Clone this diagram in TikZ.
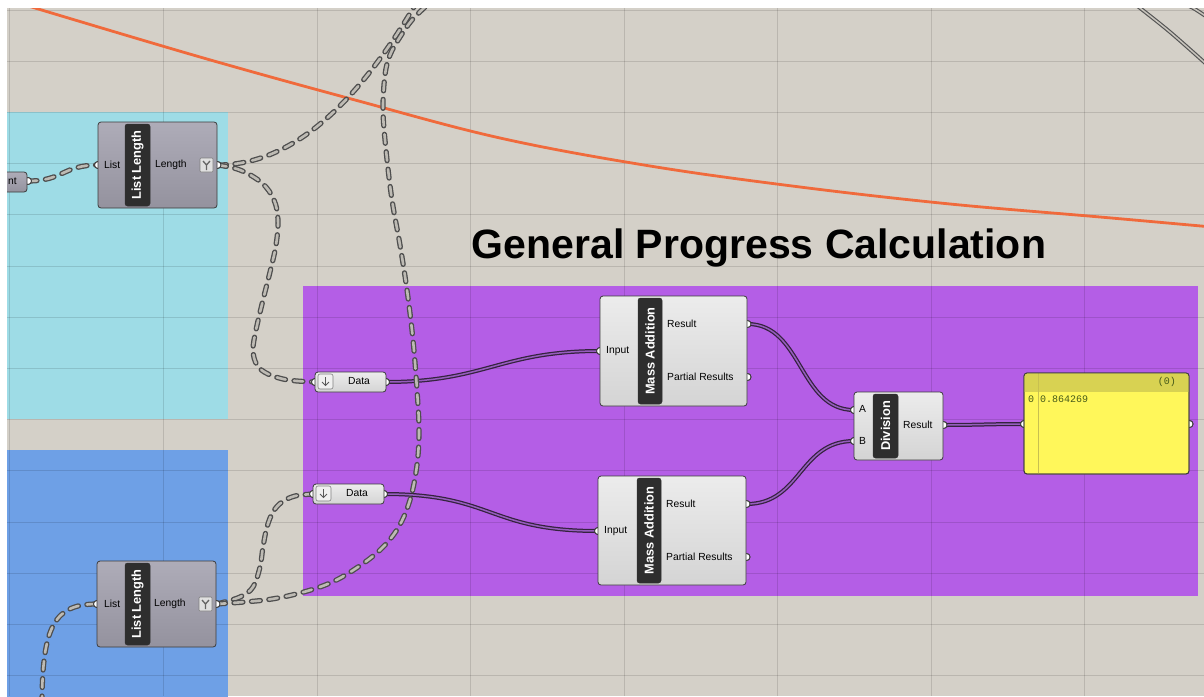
\documentclass[tikz,border=0pt]{standalone}
\usepackage{fontspec}
\setmainfont{Liberation Sans}
\newfontfamily\panelmono{Liberation Mono}
\usetikzlibrary{calc}

\definecolor{canvas}{RGB}{212,208,200}
\definecolor{cyangrp}{RGB}{158,220,230}
\definecolor{bluegrp}{RGB}{110,160,230}
\definecolor{purplegrp}{RGB}{180,94,230}
\definecolor{wireorange}{RGB}{240,106,60}
\definecolor{compedge}{RGB}{60,60,60}
\definecolor{complt}{RGB}{236,236,236}
\definecolor{compdk}{RGB}{212,212,212}
\definecolor{greylt}{RGB}{174,172,184}
\definecolor{greydk}{RGB}{148,146,158}
\definecolor{tagfill}{RGB}{46,46,46}
\definecolor{dashout}{RGB}{78,78,78}
\definecolor{dashin}{RGB}{190,187,180}
\definecolor{solidout}{RGB}{52,34,62}
\definecolor{solidin}{RGB}{150,92,190}
\definecolor{panelbody}{RGB}{255,247,90}
\definecolor{panelhead}{RGB}{216,210,82}
\definecolor{panelline}{RGB}{200,192,80}
\definecolor{paneltext}{RGB}{70,90,25}
\definecolor{circout}{RGB}{85,85,85}
\definecolor{circin}{RGB}{200,196,188}

\tikzset{
  gridln/.style={draw=black, opacity=0.12, line width=1pt},
  comp/.style={draw=compedge, line width=0.8pt, rounded corners=3pt,
    top color=complt, bottom color=compdk, inner sep=0pt, outer sep=0pt},
  compgrey/.style={comp, top color=greylt, bottom color=greydk},
  tagbox/.style={fill=tagfill, draw=black!80, line width=0.5pt, rounded corners=2.5pt,
    rotate=90, inner sep=0pt, text=white,
    font=\fontsize{12.8}{14}\selectfont\bfseries},
  port/.style={circle, draw=compedge, fill=white, line width=0.9pt,
    minimum size=7pt, inner sep=0pt},
  lbl/.style={inner sep=0pt, anchor=west, font=\fontsize{10.3}{12}\selectfont},
  yicon/.style={draw=gray, fill=black!12, rounded corners=1pt, line width=0.6pt,
    minimum width=13pt, minimum height=14pt, inner sep=0pt},
  yglyph/.style={draw=gray!80!black, line width=1.3pt},
  dicon/.style={draw=gray, fill=black!6, rounded corners=2pt, line width=0.6pt,
    minimum size=15pt, inner sep=0pt},
  darrow/.style={draw=black!65, line width=0.9pt},
  dwire/.style={draw=dashin, line width=2.6pt, dash pattern=on 9pt off 8.5pt, line cap=round,
    preaction={draw=dashout, line width=5.2pt, dash pattern=on 9pt off 8.5pt, line cap=round}},
  swire/.style={draw=solidin, line width=1.5pt,
    preaction={draw=solidout, line width=4pt}},
  ringline/.style={draw=circin, line width=1.5pt,
    preaction={draw=circout, line width=3.8pt}},
  panelbox/.style={draw=compedge, fill=panelbody, line width=0.8pt, rounded corners=3pt,
    inner sep=0pt, outer sep=0pt},
  ptxt/.style={inner sep=0pt, text=paneltext, font=\panelmono\fontsize{10}{12}\selectfont},
  title/.style={inner sep=0pt, font=\fontsize{41}{48}\selectfont\bfseries},
}

\begin{document}
\begin{tikzpicture}[x=1pt,y=-1pt]
\useasboundingbox (0,0) rectangle (1204,696);
\fill[white] (0,0) rectangle (1204,696);

\begin{scope}
\clip (7,8) rectangle (1204,696);
% canvas and groups
\fill[canvas] (7,8) rectangle (1204,696);
\fill[cyangrp] (7,112) rectangle (228,419);
\fill[bluegrp] (7,450) rectangle (228,700);
\fill[purplegrp] (303,286) rectangle (1198,596);

% canvas grid
\foreach \gx in {9,163.5,317,470.5,624,777.5,931,1084.5}
  \draw[gridln] (\gx,8) -- (\gx,696);
\foreach \gy in {10,61.2,112.4,163.6,214.8,266,317.2,368.4,419.6,470.8,522,573.2,624.4,675.6}
  \draw[gridln] (7,\gy) -- (1204,\gy);

% orange curve and the rings at the top right
\draw[wireorange, line width=2.8pt] plot[smooth, tension=0.6] coordinates
  {(25,5) (200,57) (355,100) (500,138) (650,166) (800,187) (950,204) (1100,217) (1212,227)};
\draw[ringline] plot[smooth] coordinates {(1132,2) (1140,8) (1170,32) (1204,62) (1210,68)};
\draw[ringline] plot[smooth] coordinates {(1182,3) (1193,8) (1204,15) (1210,19)};

% title
\node[title, anchor=base] (title) at (759,258) {General Progress Calculation};

% port positions
\node[port] (nt-out) at (28,181) {};
\node[port] (ll1-in) at (98,165) {};
\node[port] (ll1-out) at (217.5,165) {};
\node[port] (ll2-in) at (97,604) {};
\node[port] (ll2-out) at (216.5,604) {};
\node[port] (d1-in) at (315,382) {};
\node[port] (d1-out) at (386,382) {};
\node[port] (d2-in) at (313,494) {};
\node[port] (d2-out) at (384,494) {};
\node[port] (ma1-in) at (600,351) {};
\node[port] (ma1-r) at (747.5,324) {};
\node[port] (ma1-p) at (747.5,377) {};
\node[port] (ma2-in) at (598,531) {};
\node[port] (ma2-r) at (746.5,504) {};
\node[port] (ma2-p) at (746.5,557) {};
\node[port] (div-a) at (854,410) {};
\node[port] (div-b) at (854,441) {};
\node[port] (div-out) at (943.5,425) {};
\node[port] (panel-in) at (1024,424) {};
\node[port] (panel-out) at (1189.5,424) {};
\coordinate (w1-end) at (432,-25);
\coordinate (w2-end) at (440,-8);
\coordinate (w6-start) at (42,705);

% solid data wires
\draw[swire] (d1-out.center) .. controls +(100,0) and +(-100,0) .. (ma1-in.center);
\draw[swire] (d2-out.center) .. controls +(110,0) and +(-110,0) .. (ma2-in.center);
\draw[swire] (ma1-r.center) .. controls +(55,0) and +(-55,0) .. (div-a.center);
\draw[swire] (ma2-r.center) .. controls +(55,0) and +(-55,0) .. (div-b.center);
\draw[swire] (div-out.center) .. controls +(35,0) and +(-35,0) .. (panel-in.center);

% dashed list wires
\draw[dwire] (nt-out.center) .. controls +(35,0) and +(-35,0) .. (ll1-in.center);
\draw[dwire] (w6-start) .. controls (42,625) and (55,604) .. (ll2-in.center);
\draw[dwire] (ll1-out.center) .. controls (300,165) and (370,90) .. (w1-end);
\draw[dwire] plot[smooth, tension=0.6] coordinates {(ll1-out.center) (240,170) (262,183)
  (274,200) (278,220) (276,245) (270,272) (263,300) (256,330) (253,350) (257,365)
  (268,374) (288,380) (d1-in.center)};
\draw[dwire] plot[smooth, tension=0.6] coordinates {(ll2-out.center) (240,597) (253,587)
  (260,567) (263,547) (267,527) (273,512) (282,502) (295,496) (d2-in.center)};
\draw[dwire] plot[smooth, tension=0.6] coordinates {(ll2-out.center) (265,600) (300,593)
  (330,583) (355,569) (380,550) (398,528) (410,500) (417,465) (419,430) (417,390)
  (413,340) (407,290) (400,245) (392,200) (386,150) (383,110) (385,75) (390,55)
  (400,37) (412,20) (426,6) (w2-end)};

% redraw ports over the wires
\foreach \p in {nt-out,ll1-in,ll1-out,ll2-in,ll2-out,d1-in,d1-out,d2-in,d2-out,
  ma1-in,ma1-r,ma1-p,ma2-in,ma2-r,ma2-p,div-a,div-b,div-out,panel-in,panel-out}
  \node[port] at (\p) {};

% partially visible component on the left
\node[compgrey, minimum width=37pt, minimum height=20pt] (nt) at (8.5,182) {};
\node[lbl] (nt-txt) at (8,181) {nt};

% List Length (upper)
\node[compgrey, minimum width=119pt, minimum height=86pt] (ll1) at (157.5,165) {};
\node[tagbox, minimum width=82pt, minimum height=25pt] (ll1-tag) at (137.5,165) {List Length};
\node[lbl] (ll1-l1) at (104,165) {List};
\node[lbl] (ll1-l2) at (155,165) {Length};
\node[yicon] (ll1-y) at (206.5,165) {};
\draw[yglyph] (ll1-y.center) ++(0,5) -- ++(0,-5) -- ++(-3.5,-4) ++(3.5,4) -- ++(3.5,-4);

% List Length (lower)
\node[compgrey, minimum width=119pt, minimum height=86pt] (ll2) at (156.5,604) {};
\node[tagbox, minimum width=82pt, minimum height=25pt] (ll2-tag) at (137.5,604) {List Length};
\node[lbl] (ll2-l1) at (104,604) {List};
\node[lbl] (ll2-l2) at (154,604) {Length};
\node[yicon] (ll2-y) at (205.5,604) {};
\draw[yglyph] (ll2-y.center) ++(0,5) -- ++(0,-5) -- ++(-3.5,-4) ++(3.5,4) -- ++(3.5,-4);

% Data parameters
\node[comp, minimum width=71pt, minimum height=20pt] (d1) at (350.5,382) {};
\node[dicon] (d1-ic) at (325.5,381.5) {};
\draw[darrow] (d1-ic.center) ++(0,-4.5) -- ++(0,8.5) ++(-3.5,-3.5) -- ++(3.5,3.5) -- ++(3.5,-3.5);
\node[lbl, anchor=center] (d1-txt) at (359,381.5) {Data};

\node[comp, minimum width=71pt, minimum height=20pt] (d2) at (348.5,494) {};
\node[dicon] (d2-ic) at (323.5,493.5) {};
\draw[darrow] (d2-ic.center) ++(0,-4.5) -- ++(0,8.5) ++(-3.5,-3.5) -- ++(3.5,3.5) -- ++(3.5,-3.5);
\node[lbl, anchor=center] (d2-txt) at (357,493.5) {Data};

% Mass Addition (upper)
\node[comp, minimum width=147pt, minimum height=110pt] (ma1) at (673.5,351) {};
\node[tagbox, minimum width=106pt, minimum height=24pt] (ma1-tag) at (650,351) {Mass Addition};
\node[lbl] (ma1-l1) at (606,351) {Input};
\node[lbl] (ma1-l2) at (667,324) {Result};
\node[lbl] (ma1-l3) at (667,377) {Partial Results};

% Mass Addition (lower)
\node[comp, minimum width=148pt, minimum height=109pt] (ma2) at (672,530.5) {};
\node[tagbox, minimum width=105pt, minimum height=24pt] (ma2-tag) at (649,530.5) {Mass Addition};
\node[lbl] (ma2-l1) at (604,531) {Input};
\node[lbl] (ma2-l2) at (666,504) {Result};
\node[lbl] (ma2-l3) at (666,557) {Partial Results};

% Division
\node[comp, minimum width=89pt, minimum height=68pt] (div) at (898.5,426) {};
\node[tagbox, minimum width=64pt, minimum height=25pt] (div-tag) at (885.5,426) {Division};
\node[lbl] (div-l1) at (859,409) {A};
\node[lbl] (div-l2) at (859,441) {B};
\node[lbl] (div-l3) at (903,425) {Result};

% Panel
\node[panelbox, minimum width=165pt, minimum height=101pt] (panel) at (1106.5,423.5) {};
\begin{scope}
  \clip[rounded corners=3pt] (panel.north west) rectangle (panel.south east);
  \fill[panelhead] (panel.north west) rectangle ($(panel.north east)+(0,19)$);
  \draw[panelline, line width=0.8pt] ($(panel.north west)+(14,0)$) -- ($(panel.south west)+(14,0)$);
\end{scope}
\draw[compedge, line width=0.8pt, rounded corners=3pt] (panel.north west) rectangle (panel.south east);
\node[ptxt, anchor=east] (panel-count) at (1176,381.5) {(0)};
\node[ptxt, anchor=west] (panel-idx) at (1028,399.5) {0};
\node[ptxt, anchor=west] (panel-val) at (1040,399.5) {0.864269};
\end{scope}
\end{tikzpicture}
\end{document}
